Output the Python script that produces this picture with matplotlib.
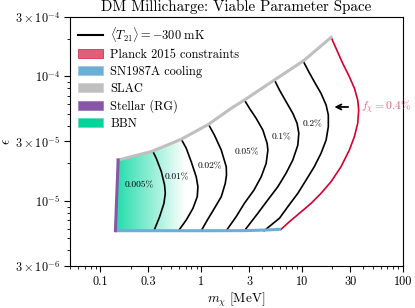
#!/usr/bin/env python3
"""DM millicharge viable parameter space, T21 = -300 mK contours."""

import matplotlib

matplotlib.use("Agg")
import matplotlib.pyplot as plt
import numpy as np
from matplotlib.colors import LinearSegmentedColormap
from matplotlib.lines import Line2D
from matplotlib.patches import Patch, Polygon
from matplotlib.ticker import FixedLocator, FixedFormatter, LogLocator, NullFormatter

PLANCK = "#d7002d"
PLANCK_LIGHT = "#e0607a"
SN = "#6baed6"
SLAC = "#bfbfbf"
STELLAR = "#8856a7"
BBN = "#00d49a"

# boundaries (m_chi in MeV, epsilon)
slac_m = [0.150, 0.320, 0.634, 1.18, 1.98, 2.68, 5.32, 10.4, 19.4]
slac_eps = [2.13e-5, 2.49e-5, 3.13e-5, 4.12e-5, 5.54e-5, 6.46e-5, 9.36e-5, 1.34e-4, 2.06e-4]

sn_m = [0.141, 1.0, 2.7, 4.5, 6.2]
sn_eps = [5.76e-6, 5.76e-6, 5.77e-6, 5.84e-6, 5.92e-6]

stellar_m = [0.150, 0.141]
stellar_eps = [2.13e-5, 5.76e-6]

planck_m = [19.4, 21.7, 25.3, 29.4, 33.0, 35.6, 36.4, 35.6, 33.0, 29.4, 24.3, 19.4, 15.4, 12.3, 9.40, 7.49, 6.2]
planck_eps = [2.06e-4, 1.68e-4, 1.27e-4, 9.95e-5, 8.03e-5, 6.46e-5, 5.37e-5, 4.20e-5, 3.28e-5,
              2.56e-5, 1.88e-5, 1.43e-5, 1.15e-5, 9.57e-6, 7.95e-6, 6.81e-6, 5.92e-6]

# T21 = -300 mK contours for each f_chi
contours = {
    "0.005%": ([0.332, 0.358, 0.402, 0.433, 0.440, 0.427, 0.387, 0.340],
               [2.49e-5, 2.20e-5, 1.72e-5, 1.34e-5, 1.15e-5, 9.57e-6, 7.47e-6, 5.76e-6]),
    "0.01%": ([0.634, 0.710, 0.796, 0.892, 0.927, 0.913, 0.828, 0.710, 0.596],
              [3.13e-5, 2.65e-5, 2.06e-5, 1.56e-5, 1.30e-5, 1.08e-5, 8.72e-6, 7.02e-6, 5.76e-6]),
    "0.02%": ([1.18, 1.35, 1.58, 1.77, 1.78, 1.73, 1.58, 1.32, 1.15, 1.0],
              [4.12e-5, 3.38e-5, 2.56e-5, 1.88e-5, 1.61e-5, 1.38e-5, 1.08e-5, 8.45e-6, 7.02e-6, 5.76e-6]),
    "0.05%": ([2.68, 3.01, 3.50, 4.08, 4.50, 4.58, 4.40, 3.93, 3.33, 2.68, 2.22, 1.77],
              [6.46e-5, 5.54e-5, 4.61e-5, 3.71e-5, 2.90e-5, 2.56e-5, 2.00e-5, 1.56e-5, 1.22e-5,
               9.57e-6, 7.47e-6, 5.76e-6]),
    "0.1%": ([5.32, 5.96, 6.94, 8.09, 8.92, 9.28, 9.07, 8.09, 6.94, 5.75, 4.58, 3.64, 2.68],
             [9.36e-5, 7.78e-5, 6.26e-5, 5.05e-5, 4.20e-5, 3.49e-5, 2.81e-5, 2.13e-5, 1.67e-5,
              1.30e-5, 1.02e-5, 7.95e-6, 5.76e-6]),
    "0.2%": ([10.2, 11.4, 13.2, 15.4, 17.3, 18.2, 18.2, 17.3, 15.4, 13.2, 10.95, 9.07, 7.22, 5.96, 4.2],
             [1.34e-4, 1.125e-4, 9.07e-5, 7.31e-5, 5.89e-5, 4.90e-5, 3.95e-5, 3.08e-5, 2.41e-5,
              1.88e-5, 1.47e-5, 1.15e-5, 8.98e-6, 7.25e-6, 5.76e-6]),
}

label_pos = {
    "0.005%": (0.245, 1.34e-5),
    "0.01%": (0.579, 1.55e-5),
    "0.02%": (1.21, 1.91e-5),
    "0.05%": (2.85, 2.44e-5),
    "0.1%": (6.2, 3.22e-5),
    "0.2%": (12.8, 4.12e-5),
}

x_ticks = [0.1, 0.3, 1, 3, 10, 30, 100]
x_ticklabels = ["0.1", "0.3", "1", "3", "10", "30", "100"]
y_ticks = [3e-6, 1e-5, 3e-5, 1e-4, 3e-4]
y_ticklabels = [r"$3\times10^{-6}$", r"$10^{-5}$", r"$3\times10^{-5}$", r"$10^{-4}$", r"$3\times10^{-4}$"]

plt.rcParams.update({
    "font.family": "serif",
    "font.serif": ["cmr10", "DejaVu Serif"],
    "mathtext.fontset": "cm",
    "axes.formatter.use_mathtext": True,
    "axes.unicode_minus": False,
    "font.size": 9,
})

fig = plt.figure(figsize=(4.15, 3.08), dpi=100)
ax = fig.add_axes([0.1687, 0.1364, 0.8023, 0.8084])
ax.set_xscale("log")
ax.set_yscale("log")
ax.set_xlim(0.05, 100)
ax.set_ylim(3e-6, 3e-4)

# BBN gradient, clipped to the region left of the contours
gx = np.logspace(np.log10(0.14), np.log10(1.2), 120)
gy = np.array([5e-6, 3e-5])
t = np.clip((np.log10(gx) - np.log10(0.14)) / (np.log10(0.70) - np.log10(0.14)), 0, 1)
cmap = LinearSegmentedColormap.from_list("bbn", ["#22dcaa", "#ffffff"])
mesh = ax.pcolormesh(gx, gy, t[:-1][None, :], cmap=cmap, vmin=0, vmax=1,
                     shading="flat", zorder=1)
clip_pts = list(zip(stellar_m[::-1], stellar_eps[::-1])) + \
    [(m, e) for m, e in zip(slac_m, slac_eps) if m <= 1.2] + [(1.18, sn_eps[0])]
clip = Polygon(clip_pts, closed=True, transform=ax.transData, facecolor="none", edgecolor="none")
ax.add_patch(clip)
mesh.set_clip_path(clip)

for name, (m, e) in contours.items():
    ax.plot(m, e, color="black", lw=1.2, zorder=3)
    lx, ly = label_pos[name]
    ax.text(lx, ly, name, fontsize=6.8, ha="center", va="center", zorder=4)

ax.plot(planck_m, planck_eps, color=PLANCK, lw=1.2, zorder=3)
ax.plot(sn_m, sn_eps, color=SN, lw=2.2, zorder=4, solid_capstyle="butt")
ax.plot(slac_m, slac_eps, color=SLAC, lw=2.2, zorder=4)
ax.plot(stellar_m, stellar_eps, color=STELLAR, lw=2.2, zorder=4)

ax.annotate("", xy=(19.6, 5.68e-5), xytext=(30.5, 5.68e-5),
            arrowprops=dict(arrowstyle="->", color="black", lw=1.3))
ax.text(38.4, 5.68e-5, r"$f_\chi=$0.4%", color=PLANCK_LIGHT, fontsize=8.3,
        ha="left", va="center")

ax.xaxis.set_major_locator(FixedLocator(x_ticks))
ax.xaxis.set_major_formatter(FixedFormatter(x_ticklabels))
ax.xaxis.set_minor_locator(LogLocator(base=10, subs=np.arange(2, 10)))
ax.xaxis.set_minor_formatter(NullFormatter())
ax.yaxis.set_major_locator(FixedLocator(y_ticks))
ax.yaxis.set_major_formatter(FixedFormatter(y_ticklabels))
ax.yaxis.set_minor_locator(LogLocator(base=10, subs=np.arange(2, 10)))
ax.yaxis.set_minor_formatter(NullFormatter())
ax.tick_params(which="major", length=4, width=0.8, labelsize=8.8, pad=3)
ax.tick_params(which="minor", length=2, width=0.6)

ax.set_xlabel(r"$m_\chi\ [\mathrm{MeV}]$", fontsize=9.6, labelpad=2)
ax.set_ylabel(r"$\epsilon$", fontsize=9.6)
ax.yaxis.set_label_coords(-0.17, 0.5)
ax.set_title("DM Millicharge: Viable Parameter Space", fontsize=10.8, pad=4)

handles = [
    Line2D([], [], color="black", lw=1.5),
    Patch(facecolor=PLANCK_LIGHT, edgecolor="#d9304f", lw=0.6),
    Patch(facecolor=SN, edgecolor="#9ecae1", lw=0.6),
    Patch(facecolor=SLAC, edgecolor="#d0d0d0", lw=0.6),
    Patch(facecolor=STELLAR, edgecolor="#a07cc0", lw=0.6),
    Patch(facecolor=BBN, edgecolor="#60e0c0", lw=0.6),
]
labels = [r"$\langle T_{21}\rangle = -300\ \mathrm{mK}$", "Planck 2015 constraints",
          "SN1987A cooling", "SLAC", "Stellar (RG)", "BBN"]
ax.legend(handles, labels, loc="upper left", frameon=False, fontsize=8.9,
          handlelength=2.0, borderaxespad=0.25, labelspacing=0.38, handletextpad=0.6)

fig.savefig("out.png", dpi=100)
